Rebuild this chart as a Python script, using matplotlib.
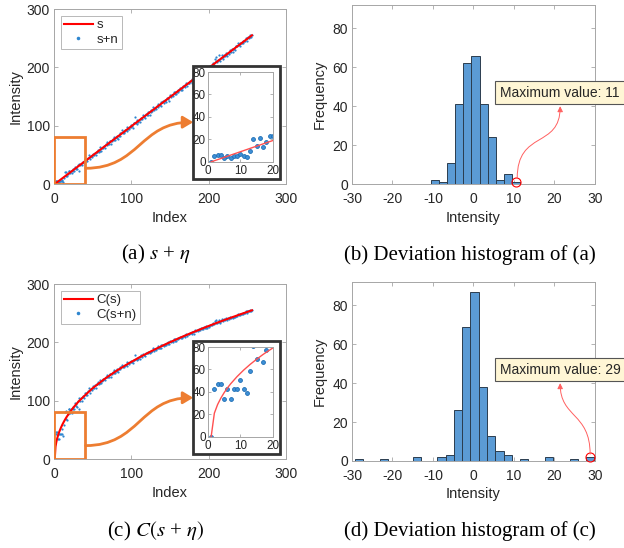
import numpy as np
import matplotlib
matplotlib.use("Agg")
import matplotlib.pyplot as plt
from matplotlib.patches import Rectangle, FancyArrowPatch
from matplotlib.path import Path

plt.rcParams["font.family"] = ["Liberation Sans", "DejaVu Sans"]
plt.rcParams["mathtext.fontset"] = "stix"
plt.rcParams["axes.unicode_minus"] = False

# ---- data ----
# (a) clean signal s (straight line) and noisy samples s+n, index 1..256
s_index = [1, 256]
s_values = [0, 255]
sn_values = [
    0, 5, 6, 6, 3, 5, 3, 5, 5, 7, 5, 4, 10, 20, 14, 21,
    13, 18, 23, 23, 19, 23, 19, 23, 25, 23, 29, 26, 28, 25, 32, 23,
    35, 32, 35, 32, 38, 37, 36, 43, 39, 42, 39, 45, 49, 43, 46, 48,
    46, 52, 50, 50, 54, 49, 55, 55, 59, 55, 57, 63, 57, 61, 64, 62,
    65, 62, 68, 72, 67, 69, 68, 74, 73, 68, 74, 77, 75, 81, 76, 80,
    79, 83, 78, 83, 87, 83, 87, 93, 87, 89, 87, 93, 93, 91, 98, 95,
    94, 98, 101, 98, 100, 96, 104, 104, 115, 105, 103, 109, 107, 110, 106, 114,
    112, 111, 118, 116, 115, 114, 120, 119, 123, 119, 123, 119, 124, 127, 125, 132,
    127, 131, 130, 128, 133, 137, 132, 135, 135, 140, 134, 140, 142, 139, 142, 144,
    141, 147, 146, 148, 143, 152, 149, 153, 152, 151, 158, 154, 157, 154, 158, 161,
    158, 162, 165, 162, 164, 161, 168, 168, 166, 169, 173, 168, 173, 173, 173, 177,
    176, 174, 180, 180, 174, 181, 185, 181, 185, 184, 190, 187, 186, 191, 189, 192,
    190, 196, 194, 194, 198, 193, 199, 199, 197, 203, 203, 202, 208, 205, 204, 215,
    211, 218, 209, 213, 212, 221, 211, 216, 222, 215, 218, 222, 220, 225, 222, 219,
    225, 223, 229, 227, 227, 231, 227, 232, 232, 229, 236, 236, 236, 241, 238, 237,
    242, 241, 241, 246, 242, 246, 246, 251, 245, 250, 252, 250, 252, 256, 252, 256,
]

# (c) transformed signal C(s) and C(s+n)
cs_index = [1, 2, 3, 4, 5, 6, 7, 9, 11, 13, 15, 17, 21, 25, 29, 33, 49, 65,
            81, 97, 113, 129, 145, 161, 177, 193, 209, 225, 241, 256]
cs_values = [0, 21.1, 28.8, 34.5, 39.3, 43.5, 47.2, 53.7, 59.4, 64.5, 69.1, 73.4,
             81.1, 88.1, 94.4, 100.2, 120.3, 136.9, 151.4, 164.3, 176.1, 187.0,
             197.2, 206.8, 215.8, 224.4, 232.7, 240.5, 248.1, 255]
csn_values = [
    0, 43, 47, 47, 34, 43, 34, 43, 43, 51, 43, 39, 59, 81, 69, 83,
    67, 77, 86, 86, 79, 86, 79, 86, 90, 86, 96, 91, 94, 90, 100, 86,
    104, 100, 104, 100, 108, 107, 105, 114, 109, 113, 109, 117, 121, 114, 118, 120,
    118, 125, 122, 122, 127, 121, 128, 128, 132, 128, 130, 136, 130, 134, 137, 135,
    138, 135, 141, 144, 140, 141, 141, 146, 145, 141, 146, 149, 147, 152, 148, 151,
    151, 154, 150, 154, 157, 154, 157, 162, 157, 159, 157, 162, 162, 160, 166, 164,
    163, 166, 168, 166, 167, 164, 170, 170, 178, 171, 170, 174, 172, 175, 172, 178,
    176, 175, 180, 179, 178, 177, 182, 181, 184, 181, 184, 181, 184, 186, 185, 190,
    186, 189, 188, 187, 190, 193, 190, 191, 191, 195, 191, 195, 196, 194, 196, 197,
    195, 199, 198, 200, 197, 202, 200, 203, 202, 201, 206, 203, 205, 203, 206, 207,
    206, 208, 210, 208, 209, 207, 211, 211, 210, 212, 214, 211, 214, 214, 214, 216,
    216, 215, 218, 218, 215, 219, 221, 219, 221, 220, 223, 222, 221, 224, 223, 224,
    223, 227, 225, 225, 228, 225, 228, 228, 227, 230, 230, 230, 233, 231, 231, 236,
    234, 238, 233, 235, 235, 239, 234, 237, 240, 236, 238, 240, 239, 241, 240, 238,
    241, 240, 243, 242, 242, 244, 242, 244, 244, 243, 246, 246, 246, 249, 247, 247,
    249, 249, 249, 251, 249, 251, 251, 253, 250, 253, 254, 253, 254, 255, 254, 255,
]

# (b) deviation histogram of (a)
hist_b_centers = [-9.5, -7.5, -5.5, -3.5, -1.5, 0.5, 2.5, 4.5, 6.5, 8.5, 10.5]
hist_b_counts = [2, 1, 11, 41, 62, 66, 41, 24, 2, 5, 1]
max_b = 11

# (d) deviation histogram of (c)
hist_d_centers = [-28.28, -22.16, -14.0, -7.88, -5.84, -3.8, -1.76, 0.28, 2.32,
                  4.36, 6.4, 8.44, 12.52, 18.64, 24.76, 28.84]
hist_d_counts = [1, 1, 2, 2, 3, 26, 69, 87, 38, 13, 5, 3, 1, 2, 1, 2]
max_d = 29

captions = ["(a) $s$ + $\\eta$", "(b) Deviation histogram of (a)",
            "(c) $C(s$ + $\\eta)$", "(d) Deviation histogram of (c)"]

ORANGE = "#ED7D31"
SPINE = "#a6a6a6"
TXT = "#262626"


def style_axes(ax, fs=10, pad=3):
    ax.tick_params(direction="in", top=True, right=True, labelsize=fs,
                   color=SPINE, labelcolor=TXT, length=3, width=0.6, pad=pad)
    ax.tick_params(axis="x", pad=pad + 3)
    for sp in ax.spines.values():
        sp.set_color(SPINE)
        sp.set_linewidth(0.7)


def bezier(p0, p1, p2, p3):
    return Path([p0, p1, p2, p3], [Path.MOVETO, Path.CURVE4, Path.CURVE4, Path.CURVE4])


def scatter_panel(rect, line_x, line_y, pts, labels, arrow_y):
    idx = np.arange(1, len(pts) + 1)
    ax = fig.add_axes(rect)
    h_pts, = ax.plot(idx, pts, ls="none", marker="o", ms=1.6, mew=0,
                     color="#2e86cf", zorder=2)
    h_line, = ax.plot(line_x, line_y, color="red", lw=1.5, zorder=3)
    ax.set_xlim(0, 300)
    ax.set_ylim(0, 300)
    ax.set_xticks([0, 100, 200, 300])
    ax.set_yticks([0, 100, 200, 300])
    style_axes(ax)
    ax.set_xlabel("Index", fontsize=10.5, color=TXT, labelpad=3)
    ax.set_ylabel("Intensity", fontsize=10.5, color=TXT)
    ax.yaxis.set_label_coords(-0.135, 0.5)
    leg = ax.legend([h_line, h_pts], labels, loc="upper left", fontsize=9.5,
                    frameon=True, fancybox=False, borderaxespad=0.5,
                    handlelength=2.2, handletextpad=0.3, borderpad=0.25,
                    labelspacing=0.2, markerscale=1.6)
    leg.get_frame().set_edgecolor(SPINE)
    leg.get_frame().set_linewidth(0.7)
    for t in leg.get_texts():
        t.set_color(TXT)

    # zoom rectangle and curved arrow
    ax.add_patch(Rectangle((0, 0), 40, 80, fill=False, ec=ORANGE, lw=2, zorder=4))
    arr = FancyArrowPatch(path=bezier((41, arrow_y[0]), (111, arrow_y[0]),
                                      (111, arrow_y[1]), (180, arrow_y[1])),
                          arrowstyle="-|>,head_length=0.5,head_width=0.3",
                          mutation_scale=12, color=ORANGE, lw=2, zorder=4)
    ax.add_patch(arr)

    # inset frame and inset axes
    ax.add_patch(Rectangle((180, 8), 112, 194, fc="white", ec="#333333", lw=2,
                           zorder=5, clip_on=False))
    ins = ax.inset_axes([199, 38, 84, 154], transform=ax.transData, zorder=6)
    ins.plot(idx, pts, ls="none", marker="o", ms=2.8, mew=0.6, mfc="#3d8fd6",
             mec="#1f6fb5")
    ins.plot(line_x, line_y, color="#ff5050", lw=1.0)
    ins.set_xlim(0, 20)
    ins.set_ylim(0, 80)
    ins.set_xticks([0, 10, 20])
    ins.set_yticks([0, 20, 40, 60, 80])
    style_axes(ins, fs=8.4, pad=1.5)
    ins.tick_params(axis="x", pad=2.5)
    ins.tick_params(length=2)
    return ax


def hist_panel(rect, centers, counts, width, max_val, curve):
    ax = fig.add_axes(rect)
    ax.bar(centers, counts, width=width, color="#5b9bd5", edgecolor="#2b3d4f",
           lw=0.7, zorder=2)
    ax.set_xlim(-30, 30)
    ax.set_ylim(0, 92)
    ax.set_xticks(range(-30, 31, 10))
    ax.set_yticks(range(0, 81, 20))
    style_axes(ax)
    ax.set_xlabel("Intensity", fontsize=10.5, color=TXT, labelpad=3)
    ax.set_ylabel("Frequency", fontsize=10.5, color=TXT)
    ax.yaxis.set_label_coords(-0.105, 0.5)

    cx, cy = centers[-1], counts[-1]
    ax.plot(cx, cy, "o", mfc="none", mec="red", ms=6.5, mew=0.8, zorder=4,
            clip_on=False)
    arr = FancyArrowPatch(path=bezier(*curve),
                          arrowstyle="-|>,head_length=0.4,head_width=0.2",
                          mutation_scale=8, color="#ff6060", lw=0.7, zorder=4)
    ax.add_patch(arr)
    ax.text(6.6, 47, f"Maximum value: {max_val}", fontsize=10, color=TXT,
            ha="left", va="center", zorder=5, clip_on=False,
            bbox=dict(boxstyle="square,pad=0.35", fc="#fff6d5", ec="#555555",
                      lw=0.8))
    return ax


fig = plt.figure(figsize=(6.24, 5.48), dpi=100)

scatter_panel([0.0865, 0.6642, 0.3718, 0.3193], s_index, s_values, sn_values,
              ["s", "s+n"], (27, 106))
hist_panel([0.5641, 0.6642, 0.3894, 0.3266], hist_b_centers, hist_b_counts,
           2.0, max_b, [(10.8, 3), (10.8, 28), (21.4, 18), (21.4, 40)])
scatter_panel([0.0865, 0.1624, 0.3718, 0.3193], cs_index, cs_values, csn_values,
              ["C(s)", "C(s+n)"], (23, 105))
hist_panel([0.5641, 0.1588, 0.3894, 0.3266], hist_d_centers, hist_d_counts,
           2.04, max_d, [(28.8, 3.5), (28.8, 25), (21.4, 22), (21.4, 40)])

cap_font = dict(fontsize=15, family=["Liberation Serif"], ha="center", va="center",
                color="black")
fig.text(0.25, 0.535, captions[0], **cap_font)
fig.text(0.753, 0.535, captions[1], **cap_font)
fig.text(0.25, 0.031, captions[2], **cap_font)
fig.text(0.753, 0.031, captions[3], **cap_font)

fig.savefig("out.png", dpi=100)
